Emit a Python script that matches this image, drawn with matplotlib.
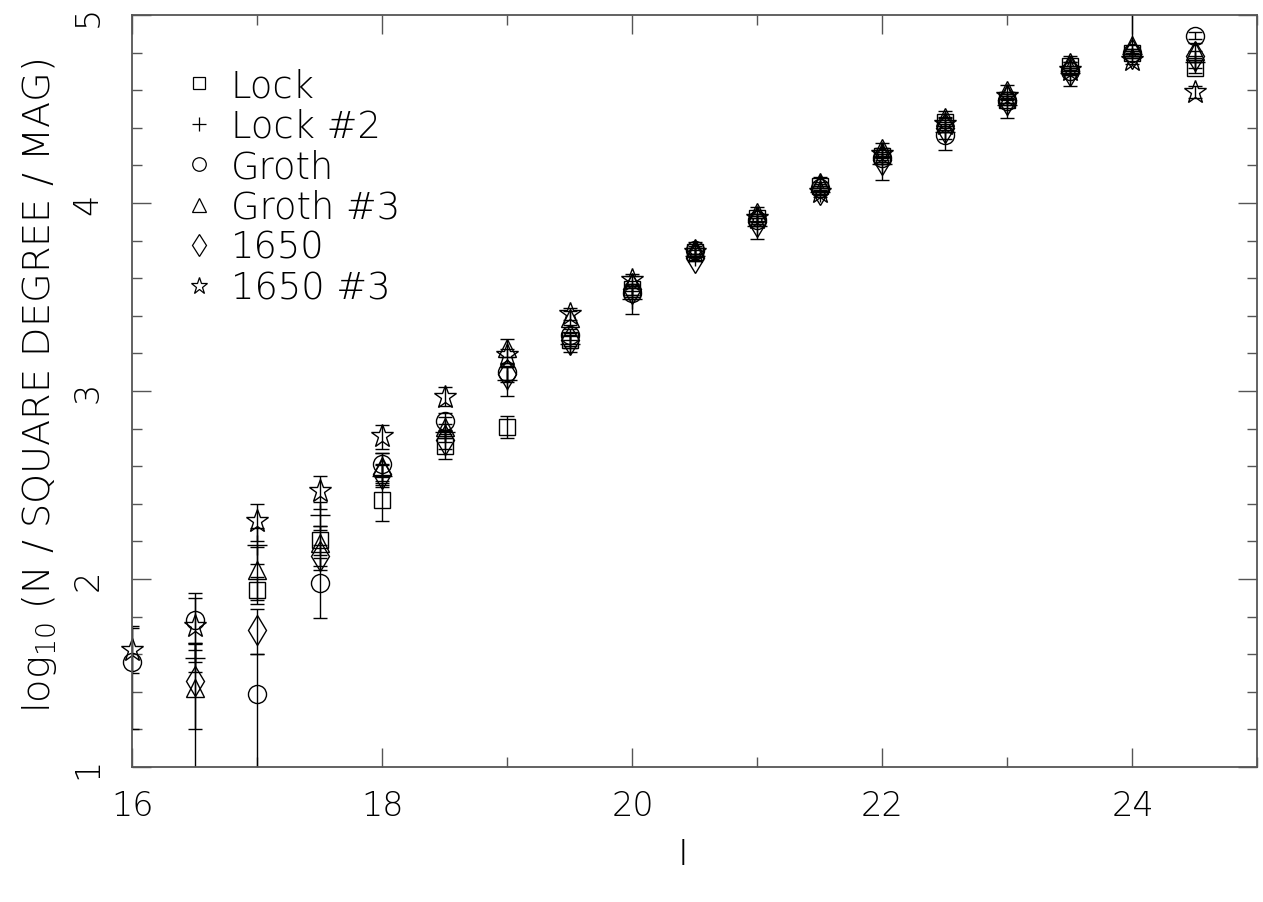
import numpy as np
import matplotlib
matplotlib.use("Agg")
import matplotlib.pyplot as plt
from matplotlib.lines import Line2D
from matplotlib.ticker import MultipleLocator

nan = np.nan

# magnitude bins
mag = [16.0, 16.5, 17.0, 17.5, 18.0, 18.5, 19.0, 19.5, 20.0,
       20.5, 21.0, 21.5, 22.0, 22.5, 23.0, 23.5, 24.0, 24.5]

# log10 counts and lower / upper error (dex) per field
lock = [nan, nan, 1.94, 2.21, 2.42, 2.71, 2.81, 3.27, 3.54,
        3.74, 3.92, 4.09, 4.25, 4.43, 4.55, 4.73, 4.80, 4.72]
lock_lo = [nan, nan, 0.075, 0.08, 0.11, 0.07, 0.06, 0.04, 0.03,
           0.02, 0.02, 0.02, 0.02, 0.02, 0.02, 0.02, 0.02, 0.03]
lock_hi = [nan, nan, 0.07, 0.07, 0.09, 0.06, 0.055, 0.04, 0.03,
           0.02, 0.02, 0.02, 0.02, 0.02, 0.02, 0.02, 0.02, 0.03]

lock2 = [nan, 1.58, 2.18, 2.34, 2.55, 2.78, 3.06, 3.25, 3.49,
         3.72, 3.88, 4.06, 4.21, 4.38, 4.52, 4.69, 4.79, 4.75]
lock2_lo = [nan, 0.075, 0.10, 0.08, 0.06, 0.05, 0.085, 0.045, 0.08,
            0.03, 0.07, 0.03, 0.09, 0.10, 0.07, 0.07, 0.02, 0.03]
lock2_hi = [nan, 0.075, 0.09, 0.07, 0.055, 0.045, 0.07, 0.04, 0.07,
            0.03, 0.06, 0.03, 0.08, 0.08, 0.06, 0.06, 0.02, 0.03]

groth = [1.56, 1.78, 1.39, 1.98, 2.61, 2.84, 3.10, 3.30, 3.52,
         3.75, 3.91, 4.08, 4.24, 4.36, 4.54, 4.70, 4.80, 4.89]
groth_lo = [0.36, 0.22, 0.43, 0.19, 0.07, 0.05, 0.04, 0.03, 0.03,
            0.02, 0.02, 0.02, 0.02, 0.02, 0.02, 0.02, 0.02, 0.02]
groth_hi = [0.19, 0.145, 0.21, 0.13, 0.06, 0.045, 0.035, 0.03, 0.03,
            0.02, 0.02, 0.02, 0.02, 0.02, 0.02, 0.02, 0.02, 0.02]

groth3 = [nan, 1.42, 2.05, 2.19, 2.60, 2.81, 3.23, 3.39, 3.58,
          3.76, 3.95, 4.11, 4.29, 4.46, 4.60, 4.75, 4.84, 4.81]
groth3_lo = [nan, 0.60, 0.16, 0.12, 0.08, 0.06, 0.05, 0.04, 0.03,
             0.03, 0.03, 0.03, 0.03, 0.03, 0.03, 0.03, 0.04, 0.04]
groth3_hi = [nan, 0.24, 0.12, 0.09, 0.07, 0.05, 0.045, 0.035, 0.03,
             0.03, 0.03, 0.03, 0.03, 0.03, 0.03, 0.03, 0.20, 0.04]

f1650 = [nan, 1.46, 1.73, 2.12, 2.56, 2.74, 3.09, 3.27, 3.54,
         3.71, 3.90, 4.07, 4.23, 4.40, 4.55, 4.70, 4.79, 4.78]
f1650_lo = [nan, 0.26, 0.13, 0.07, 0.06, 0.05, 0.04, 0.03, 0.03,
            0.02, 0.02, 0.02, 0.02, 0.02, 0.02, 0.02, 0.02, 0.03]
f1650_hi = [nan, 0.20, 0.11, 0.06, 0.05, 0.045, 0.035, 0.03, 0.03,
            0.02, 0.02, 0.02, 0.02, 0.02, 0.02, 0.02, 0.02, 0.03]

f1650_3 = [1.62, 1.75, 2.31, 2.47, 2.76, 2.97, 3.19, 3.41, 3.59,
           3.74, 3.92, 4.06, 4.26, 4.42, 4.57, 4.71, 4.76, 4.59]
f1650_3_lo = [0.12, 0.13, 0.11, 0.10, 0.07, 0.05, 0.04, 0.03, 0.03,
              0.02, 0.02, 0.02, 0.02, 0.02, 0.02, 0.02, 0.02, 0.03]
f1650_3_hi = [0.12, 0.15, 0.09, 0.08, 0.06, 0.05, 0.035, 0.03, 0.03,
              0.02, 0.02, 0.02, 0.02, 0.02, 0.02, 0.02, 0.02, 0.03]

labels = ["Lock", "Lock #2", "Groth", "Groth #3", "1650", "1650 #3"]

plt.rcParams['font.family'] = ['DejaVu Sans']
plt.rcParams['font.weight'] = 200

fig = plt.figure(figsize=(12.63, 9.03), dpi=100)
ax = fig.add_axes([0.1049, 0.1495, 0.8907, 0.8328])

series = [
    (lock, lock_lo, lock_hi, 's', 11),
    (lock2, lock2_lo, lock2_hi, '+', 14),
    (groth, groth_lo, groth_hi, 'o', 13),
    (groth3, groth3_lo, groth3_hi, '^', 13),
    (f1650, f1650_lo, f1650_hi, 'd', 15.5),
    (f1650_3, f1650_3_lo, f1650_3_hi, '*', 17),
]

handles = []
for (y, lo, hi, m, ms), lab in zip(series, labels):
    eb = ax.errorbar(mag, y, yerr=[lo, hi], fmt=m, ms=ms, mfc='none', mec='black',
                     mew=1.0, ecolor='black', elinewidth=1.0, capsize=5, capthick=1.0)
    # markers on the frame are drawn whole, error bars stay clipped
    eb[0].set_clip_on(False)
    handles.append(Line2D([], [], ls='none', marker=m, ms=ms * 0.75,
                          mfc='none', mec='black', mew=0.9, label=lab))

ax.set_xlim(16, 25)
ax.set_ylim(1, 5)
ax.xaxis.set_major_locator(MultipleLocator(2))
ax.xaxis.set_minor_locator(MultipleLocator(1))
ax.yaxis.set_major_locator(MultipleLocator(1))
ax.yaxis.set_minor_locator(MultipleLocator(0.2))
ax.tick_params(which='both', direction='in', top=True, right=True,
               color='#555555', width=1.0)
ax.tick_params(which='major', length=14)
ax.tick_params(which='minor', length=7)
ax.tick_params(axis='x', labelsize=24, pad=16)
ax.tick_params(axis='y', labelsize=24, pad=20, labelrotation=90)
for t in ax.get_yticklabels():
    t.set_va('center')
for s in ax.spines.values():
    s.set_color('#555555')
    s.set_linewidth(1.3)

ax.legend(handles=handles, loc='upper left', bbox_to_anchor=(0.03, 0.95),
          frameon=False, fontsize=26.5, handlelength=1.0, handletextpad=0.35,
          labelspacing=0.12, borderaxespad=0)

fig.text(40 / 1263, 1 - 386 / 903, r"log$_{10}$ (N / SQUARE DEGREE / MAG)",
         rotation=90, ha='center', va='center', fontsize=27.5)
fig.text(683 / 1263, 1 - 855 / 903, "I", ha='center', va='center', fontsize=26)

fig.savefig("out.png", dpi=100)
